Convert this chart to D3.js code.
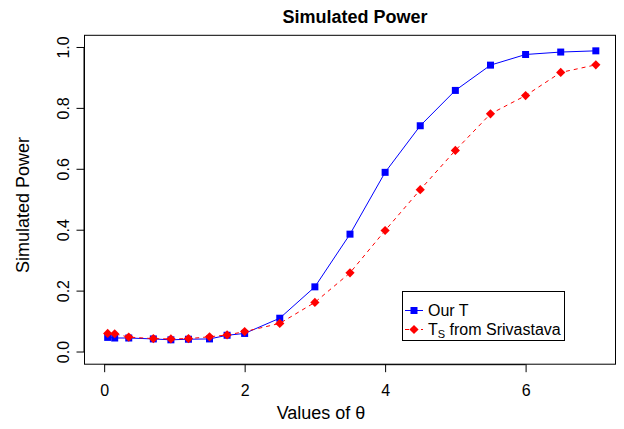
<!DOCTYPE html>
<html><head><meta charset="utf-8">
<script src="https://cdn.jsdelivr.net/npm/d3@7"></script>
<style>body{margin:0;background:#fff;} text{font-family:"Liberation Sans",Arial,sans-serif;}</style>
</head><body>
<svg id="c" width="624" height="429"></svg>
<script>
const theta = [0.05,0.15,0.35,0.7,0.95,1.2,1.5,1.75,2.0,2.5,3,3.5,4,4.5,5,5.5,6,6.5,7];
const ourT  = [0.048,0.046,0.046,0.043,0.040,0.042,0.043,0.055,0.061,0.111,0.214,0.387,0.590,0.743,0.859,0.942,0.977,0.985,0.989];
const tsSriv= [0.061,0.060,0.049,0.044,0.043,0.044,0.050,0.056,0.067,0.094,0.163,0.260,0.399,0.533,0.662,0.782,0.842,0.918,0.943];
const xTicks = [0,2,4,6];
const yTicks = [0,0.2,0.4,0.6,0.8,1.0];

const svg = d3.select("#c");
const L=84.5,R=615.5,T=35.3,B=364.2;
const x = d3.scaleLinear().domain([-0.28,7.28]).range([L,R]);
const y = d3.scaleLinear().domain([-0.04,1.04]).range([B,T]);

svg.append("rect").attr("x",L).attr("y",T).attr("width",R-L).attr("height",B-T)
  .attr("fill","none").attr("stroke","#000").attr("stroke-width",1);

const xa = svg.append("g").attr("transform",`translate(0,${B})`)
  .call(d3.axisBottom(x).tickValues(xTicks).tickSize(8).tickPadding(12).tickFormat(d3.format("d")));
xa.select(".domain").attr("d",`M${x(0)},0.5H${x(6)}`);
const ya = svg.append("g").attr("transform",`translate(${L},0)`)
  .call(d3.axisLeft(y).tickValues(yTicks).tickSize(8).tickFormat(d3.format(".1f")));
ya.select(".domain").attr("d",`M-0.5,${y(0)}V${y(1)}`);
[xa,ya].forEach(a=>{a.selectAll("text").attr("font-size",16).attr("fill","#000").attr("font-family","Liberation Sans, Arial, sans-serif");});
ya.selectAll(".tick").attr("transform",null);
ya.selectAll(".tick line").attr("transform",d=>`translate(0,${y(d)})`);
ya.selectAll(".tick text").attr("text-anchor","middle").attr("x",0).attr("y",0).attr("dy","0.35em")
  .attr("transform",d=>`translate(-21,${y(d)}) rotate(-90)`);

svg.append("text").attr("x",355).attr("y",23).attr("text-anchor","middle")
  .attr("font-size",18).attr("font-weight","bold").text("Simulated Power");
svg.append("text").attr("x",321).attr("y",419).attr("text-anchor","middle")
  .attr("font-size",18).text("Values of θ");
svg.append("text").attr("transform",`translate(29,205) rotate(-90)`).attr("text-anchor","middle")
  .attr("font-size",18).text("Simulated Power");

const line = d3.line();
const sq = d3.symbol().type(d3.symbolSquare).size(49);
const dm = "M0,-4.6L4.6,0L0,4.6L-4.6,0Z";

svg.append("path").attr("d",line(theta.map((t,i)=>[x(t),y(ourT[i])])))
  .attr("fill","none").attr("stroke","#0000ff").attr("stroke-width",1);
svg.append("g").selectAll("path").data(theta).join("path")
  .attr("transform",(t,i)=>`translate(${x(t)},${y(ourT[i])})`).attr("d",sq).attr("fill","#0000ff");
svg.append("path").attr("d",line(theta.map((t,i)=>[x(t),y(tsSriv[i])])))
  .attr("fill","none").attr("stroke","#ff0000").attr("stroke-width",1).attr("stroke-dasharray","4,4");
svg.append("g").selectAll("path").data(theta).join("path")
  .attr("transform",(t,i)=>`translate(${x(t)},${y(tsSriv[i])})`).attr("d",dm).attr("fill","#ff0000");

// legend
const lg = svg.append("g");
lg.append("rect").attr("x",402.5).attr("y",291.5).attr("width",162).attr("height",49)
  .attr("fill","#fff").attr("stroke","#000");
lg.append("line").attr("x1",405).attr("x2",423).attr("y1",310.5).attr("y2",310.5).attr("stroke","#0000ff");
lg.append("path").attr("transform","translate(414,310.5)").attr("d",sq).attr("fill","#0000ff");
lg.append("line").attr("x1",405).attr("x2",423).attr("y1",329.5).attr("y2",329.5).attr("stroke","#ff0000").attr("stroke-dasharray","4,4");
lg.append("path").attr("transform","translate(414,329.5)").attr("d",dm).attr("fill","#ff0000");
lg.append("text").attr("x",428).attr("y",316).attr("font-size",16).text("Our T");
const t2 = lg.append("text").attr("x",428).attr("y",335).attr("font-size",16);
t2.append("tspan").text("T");
t2.append("tspan").attr("font-size",11).attr("dy",3).text("S");
t2.append("tspan").attr("dy",-3).text(" from Srivastava");
</script>
</body></html>
